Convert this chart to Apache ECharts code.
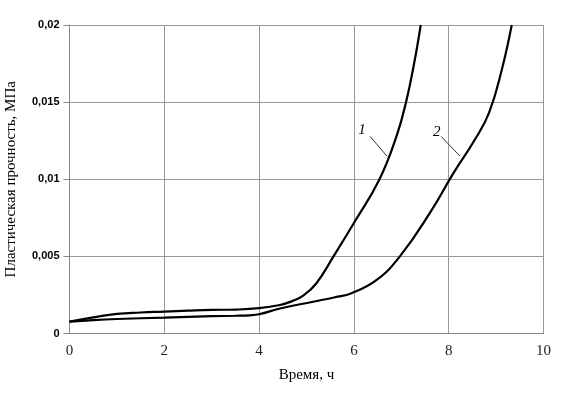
<!DOCTYPE html>
<html><head><meta charset="utf-8">
<script src="https://cdn.jsdelivr.net/npm/echarts@6/dist/echarts.min.js"></script>
<style>html,body{margin:0;padding:0;background:#fff}#c{width:567px;height:399px}</style>
</head><body><div id="c"></div>
<script>
var xTicks = [0, 2, 4, 6, 8, 10];
var yTicks = [0, 0.005, 0.01, 0.015, 0.02];
var curve1 = [[0,0.00077],[0.5,0.00104],[1,0.00127],[1.5,0.00136],[2,0.00142],[2.5,0.00148],[3,0.00153],[3.5,0.00155],[4,0.00164],[4.44,0.00185],[4.7,0.0021],[4.93,0.00245],[5.21,0.00326],[5.57,0.005],[6,0.00716],[6.54,0.01],[6.9,0.0128],[7.1,0.015],[7.27,0.0175],[7.41,0.02]];
var curve2 = [[0,0.00077],[0.5,0.00087],[1,0.00094],[2,0.00103],[3,0.00112],[3.5,0.00115],[3.8,0.00118],[4,0.00125],[4.44,0.00162],[5.14,0.00206],[5.6,0.00235],[5.95,0.00261],[6.48,0.00347],[6.97,0.005],[7.6,0.0078],[8.1,0.0104],[8.55,0.01256],[8.85,0.0143],[9.12,0.0171],[9.33,0.02]];
var seriesNames = ['1', '2'];
var labelPos = [[6.17, 0.01321], [7.75, 0.01308]];
var leaders = [[[6.34, 0.01278], [6.70, 0.01149]], [[7.84, 0.01278], [8.24, 0.01149]]];

var chart = echarts.init(document.getElementById('c'));
function mk(i, data) {
  return {
    name: seriesNames[i], type: 'line', data: data, smooth: 0.45, showSymbol: false,
    lineStyle: {color: '#000', width: 2.2}, itemStyle: {color: '#000'},
    markPoint: {
      symbol: 'circle', symbolSize: 1, itemStyle: {color: 'rgba(0,0,0,0)'},
      label: {show: true, position: 'inside', formatter: seriesNames[i], fontFamily: 'Liberation Serif', fontStyle: 'italic', fontSize: 15, color: '#000'},
      data: [{coord: labelPos[i]}]
    },
    markLine: {
      silent: true, symbol: 'none', label: {show: false},
      lineStyle: {color: '#333', width: 1, type: 'solid'},
      data: [[{coord: leaders[i][0]}, {coord: leaders[i][1]}]]
    }
  };
}
chart.setOption({
  animation: false,
  grid: {left: 69.5, right: 23.5, top: 25, bottom: 65.5, containLabel: false, outerBoundsMode: 'none'},
  xAxis: {
    type: 'value', min: 0, max: 10, interval: 2,
    name: 'Время, ч', nameLocation: 'middle', nameGap: 34,
    nameTextStyle: {fontFamily: 'Liberation Serif', fontSize: 15, color: '#000'},
    axisLine: {lineStyle: {color: '#888'}}, axisTick: {show: false},
    axisLabel: {fontFamily: 'Liberation Serif', fontSize: 15, color: '#222', margin: 10},
    splitLine: {show: true, lineStyle: {color: '#999', width: 1}}
  },
  yAxis: {
    type: 'value', min: 0, max: 0.02, interval: 0.005,
    name: 'Пластическая прочность, МПа', nameLocation: 'middle', nameGap: 51, nameRotate: 90,
    nameTextStyle: {fontFamily: 'Liberation Serif', fontSize: 15, color: '#000'},
    axisLine: {show: true, lineStyle: {color: '#888'}},
    axisTick: {show: true, length: 6, lineStyle: {color: '#888'}},
    axisLabel: {fontFamily: 'Liberation Sans', fontWeight: 'bold', fontSize: 11, color: '#000', margin: 10,
      formatter: function (v) { return String(Number(v.toFixed(3))).replace('.', ','); }},
    splitLine: {show: true, lineStyle: {color: '#999', width: 1}}
  },
  series: [mk(0, curve1), mk(1, curve2)]
});
</script></body></html>
